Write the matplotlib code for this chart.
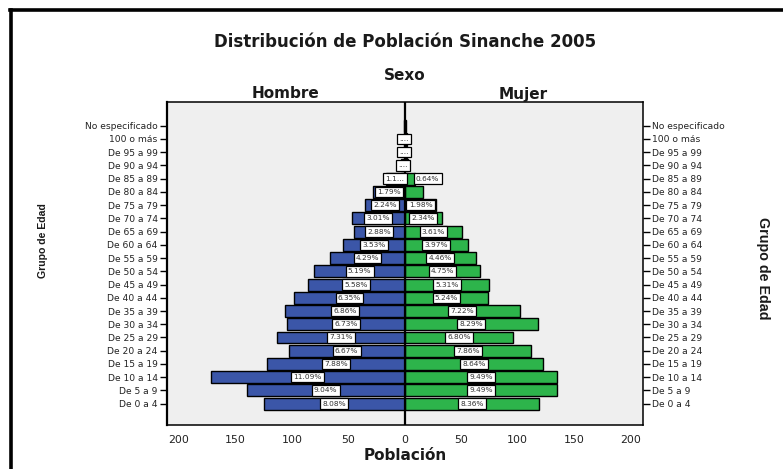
import matplotlib
matplotlib.use("Agg")
import matplotlib.pyplot as plt
from matplotlib.lines import Line2D
import numpy as np

# ---------------- data ----------------
age_groups = ["De 0 a 4", "De 5 a 9", "De 10 a 14", "De 15 a 19", "De 20 a 24",
              "De 25 a 29", "De 30 a 34", "De 35 a 39", "De 40 a 44", "De 45 a 49",
              "De 50 a 54", "De 55 a 59", "De 60 a 64", "De 65 a 69", "De 70 a 74",
              "De 75 a 79", "De 80 a 84", "De 85 a 89", "De 90 a 94", "De 95 a 99",
              "100 o más", "No especificado"]
hombre = [125, 140, 172, 122, 103, 113, 104, 106, 98, 86, 80, 66, 55, 45, 47,
          35, 28, 17, 3, 1, 1, 1]
mujer = [119, 135, 135, 123, 112, 96, 118, 102, 74, 75, 67, 63, 56, 51, 33,
         28, 16, 9, 3, 2, 2, 1]
pct_hombre = ["8.08%", "9.04%", "11.09%", "7.88%", "6.67%", "7.31%", "6.73%",
              "6.86%", "6.35%", "5.58%", "5.19%", "4.29%", "3.53%", "2.88%",
              "3.01%", "2.24%", "1.79%", "1.1...", "....", "....", "....", ""]
pct_mujer = ["8.36%", "9.49%", "9.49%", "8.64%", "7.86%", "6.80%", "8.29%",
             "7.22%", "5.24%", "5.31%", "4.75%", "4.46%", "3.97%", "3.61%",
             "2.34%", "1.98%", "", "0.64%", "", "", "", ""]
xtick_values = [-200, -150, -100, -50, 0, 50, 100, 150, 200]
xtick_labels = ["200", "150", "100", "50", "0", "50", "100", "150", "200"]

title = "Distribución de Población Sinanche 2005"
sexo_label = "Sexo"
left_group = "Hombre"
right_group = "Mujer"
x_label = "Población"
y_label = "Grupo de Edad"

BLUE = "#3B56A8"
GREEN = "#2DB44B"
BG = "#EFEFEF"

# ---------------- figure ----------------
W, H = 783, 469
fig = plt.figure(figsize=(W / 100, H / 100), dpi=100)
fig.patch.set_facecolor("white")

def fx(px):
    return px / W

def fy(py):
    return 1 - py / H

ax = fig.add_axes([fx(166.7), fy(425), (642.7 - 166.7) / W, (425 - 102) / H])
ax.set_facecolor(BG)

y = np.arange(len(age_groups))
h = np.array(hombre)
m = np.array(mujer)

ax.barh(y, -h, height=0.9, color=BLUE, edgecolor="black", linewidth=1.0, zorder=2)
ax.barh(y, m, height=0.9, color=GREEN, edgecolor="black", linewidth=1.0, zorder=2)
ax.axvline(0, color="black", lw=1.6, zorder=3)

box = dict(boxstyle="square,pad=0.3", fc="white", ec="black", lw=0.9)
for i in range(len(age_groups)):
    if pct_hombre[i]:
        ax.text(-h[i] / 2, y[i], pct_hombre[i], ha="center", va="center",
                fontsize=5.3, color="#333333", bbox=box, zorder=5)
    if pct_mujer[i]:
        if m[i] < 12:
            ax.text(m[i] + 1.0, y[i], pct_mujer[i], ha="left", va="center",
                    fontsize=5.3, color="#333333", bbox=box, zorder=5)
        else:
            ax.text(m[i] / 2, y[i], pct_mujer[i], ha="center", va="center",
                    fontsize=5.3, color="#333333", bbox=box, zorder=5)

ax.set_xlim(-211, 211)
ax.set_ylim(-1.61, 22.79)
ax.set_xticks(xtick_values)
ax.set_xticklabels(xtick_labels)
ax.tick_params(axis="x", length=0, pad=7, labelsize=7.9, colors="#222222")
ax.set_yticks(y)
ax.set_yticklabels(age_groups)
ax.tick_params(axis="y", left=True, right=True, labelleft=True, labelright=True,
               length=5, width=1, pad=1.5, labelsize=6.6, labelcolor="#222222")
for s in ax.spines.values():
    s.set_linewidth(1.1)
    s.set_color("black")
ax.spines["left"].set_linewidth(1.6)

# texts
fig.text(fx(405), fy(42), title, ha="center", va="center", fontsize=12,
         weight="bold", color="#1a1a1a")
fig.text(fx(405), fy(75), sexo_label, ha="center", va="center", fontsize=11,
         weight="bold", color="#1a1a1a")
fig.text(fx(285.5), fy(94), left_group, ha="center", va="center", fontsize=11,
         weight="bold", color="#1a1a1a")
fig.text(fx(523.5), fy(94), right_group, ha="center", va="center", fontsize=11,
         weight="bold", color="#1a1a1a")
fig.text(fx(405), fy(455), x_label, ha="center", va="center", fontsize=11,
         weight="bold", color="#1a1a1a")
fig.text(fx(43), fy(241), y_label, ha="center", va="center", rotation=90,
         fontsize=7.6, weight="bold", family="Liberation Sans", color="#1a1a1a")
fig.text(fx(763), fy(268), y_label, ha="center", va="center", rotation=-90,
         fontsize=10.3, weight="bold", family="Liberation Sans", color="#1a1a1a")

# outer frame (page border)
fig.add_artist(Line2D([fx(11), fx(11)], [fy(10), fy(469)], color="black", lw=2.6))
fig.add_artist(Line2D([fx(10), fx(783)], [fy(10.5), fy(10.5)], color="black", lw=2.6))

fig.savefig("out.png", dpi=100, facecolor="white")
